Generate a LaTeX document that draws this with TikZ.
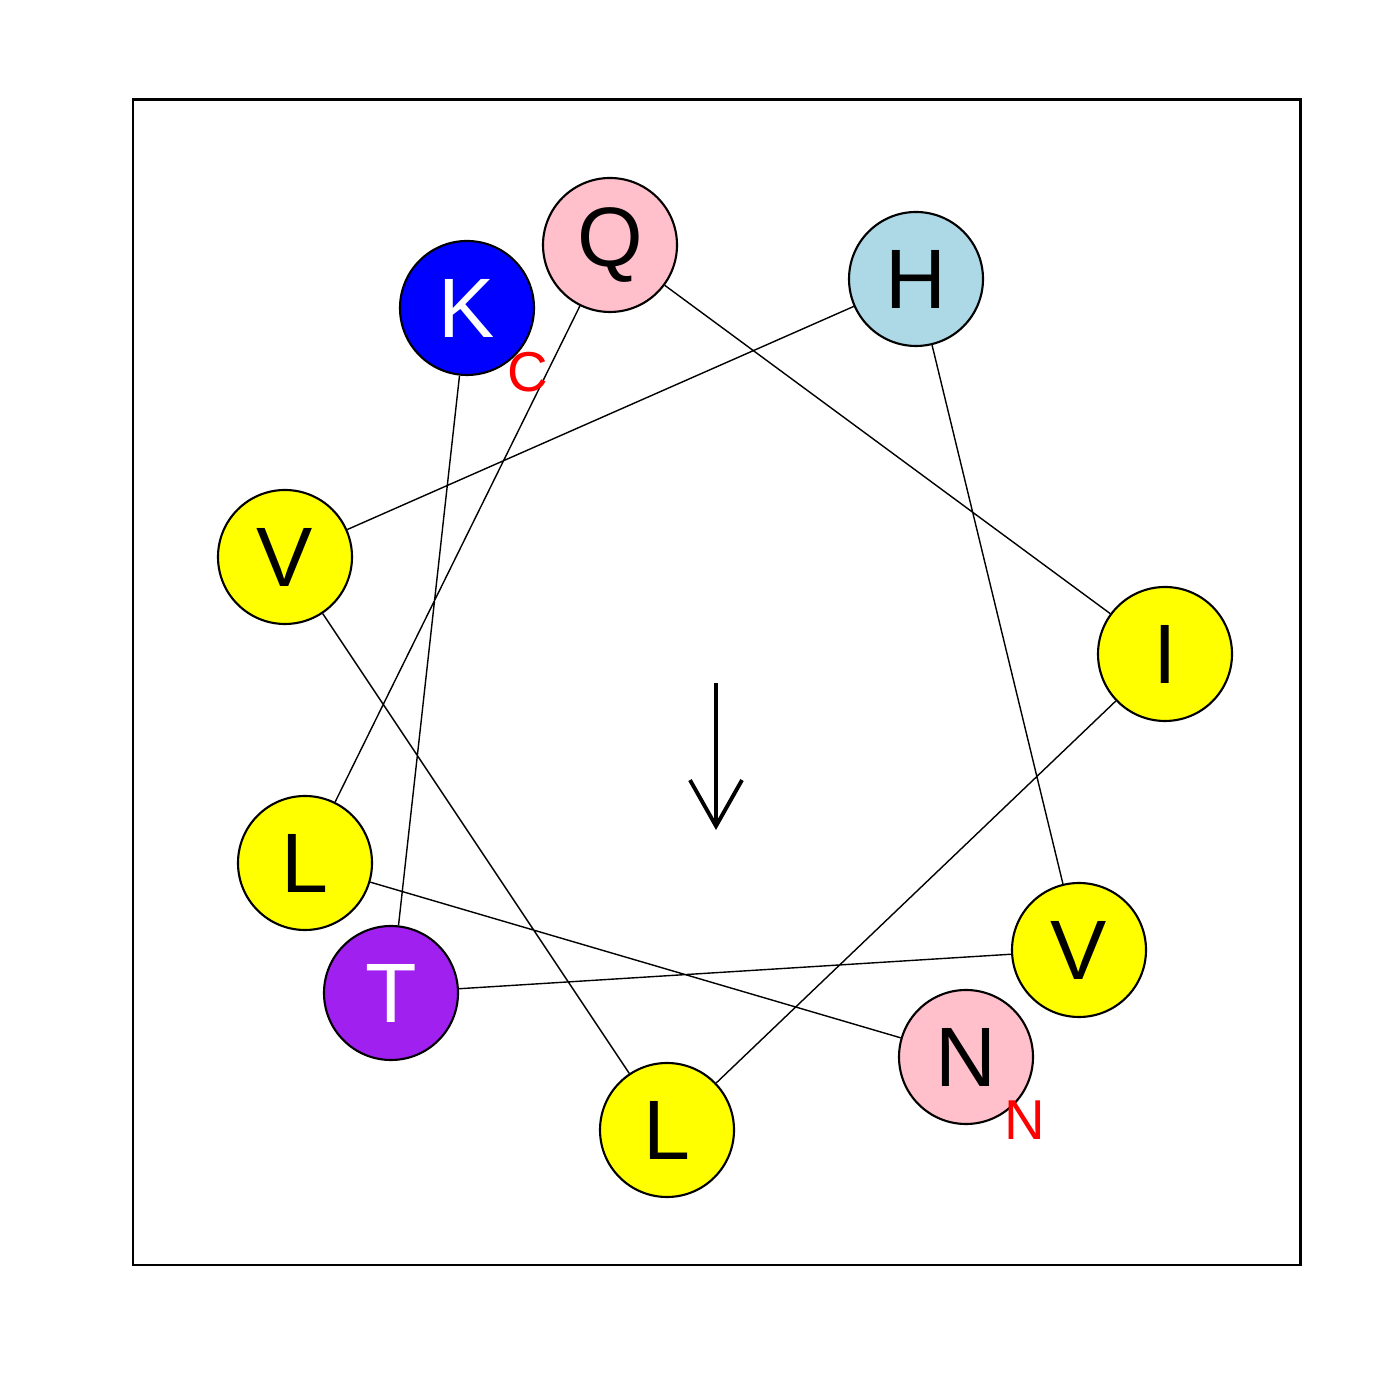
\documentclass[tikz,border=0pt]{standalone}
\usepackage{fontspec}
\setmainfont{Liberation Sans}
\usetikzlibrary{arrows.meta}
\definecolor{rpink}{RGB}{255,192,203}
\definecolor{rlightblue}{RGB}{173,216,230}
\definecolor{rblue}{RGB}{0,0,255}
\definecolor{rpurple}{RGB}{160,32,240}
\definecolor{ryellow}{RGB}{255,255,0}
\tikzset{
  res/.style={circle, draw=black, line width=0.6pt, minimum size=1.34cm, inner sep=0pt,
    font=\fontsize{24}{24}\selectfont},
  endlabel/.style={text=red, font=\fontsize{16}{16}\selectfont},
}
\begin{document}
\begin{tikzpicture}
  \useasboundingbox (0,0) rectangle (14,14);
  \draw[line width=0.85pt] (1.33,1.35) rectangle (13.00,13.00);
  % residues of the wheel
  \node[res, fill=rpink] (n1) at (9.66,3.43) {N};
  \node[res, fill=ryellow] (v1) at (10.79,4.50) {V};
  \node[res, fill=ryellow] (i1) at (11.65,7.46) {I};
  \node[res, fill=rlightblue] (h1) at (9.16,11.21) {H};
  \node[res, fill=rpink] (q1) at (6.10,11.55) {Q};
  \node[res, fill=rblue, text=white] (k1) at (4.67,10.92) {K};
  \node[res, fill=ryellow] (v2) at (2.85,8.43) {V};
  \node[res, fill=ryellow] (l1) at (3.05,5.37) {L};
  \node[res, fill=rpurple, text=white] (t1) at (3.91,4.07) {T};
  \node[res, fill=ryellow] (l2) at (6.67,2.70) {L};
  % backbone
  \draw (n1) -- (l1) -- (q1) -- (i1) -- (l2) -- (v2) -- (h1) -- (v1) -- (t1) -- (k1);
  \node[endlabel] (nterm) at (10.25,2.80) {N};
  \node[endlabel] (cterm) at (5.28,10.28) {C};
  % moment
  \coordinate (m0) at (7.16,7.17);
  \coordinate (m1) at (7.16,5.70);
  \draw[line width=1.1pt, -{Straight Barb[length=0.46cm, width=0.52cm]}] (m0) -- (m1);
\end{tikzpicture}
\end{document}
